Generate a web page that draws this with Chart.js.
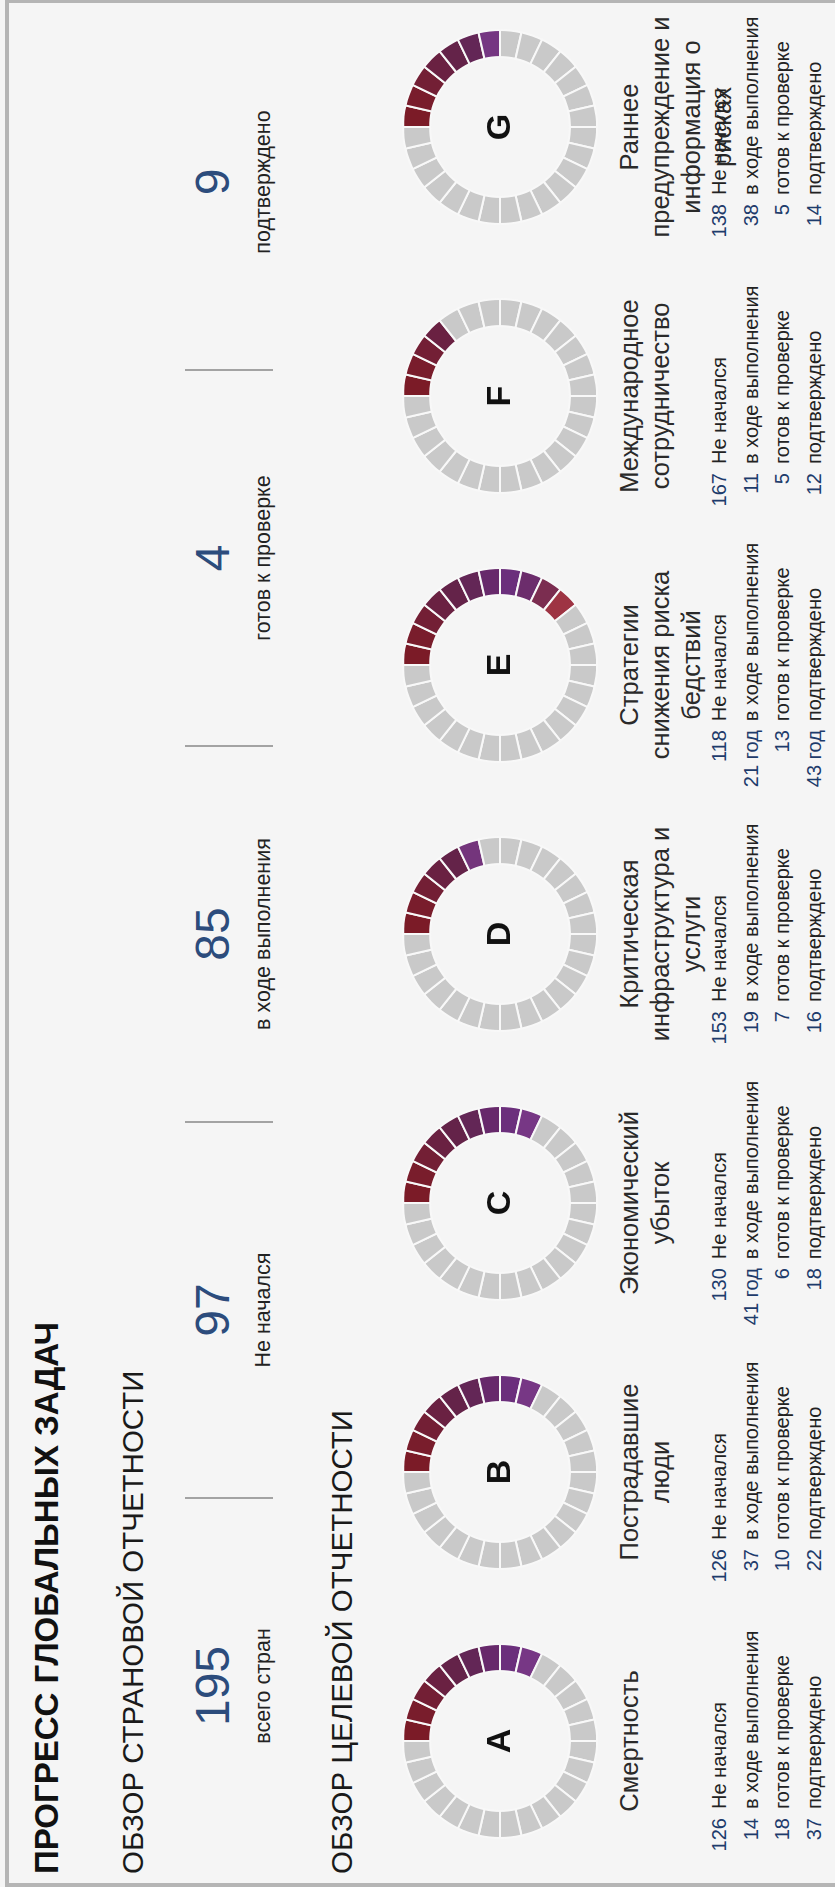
<!DOCTYPE html>
<html>
<head>
<meta charset="utf-8">
<script src="https://cdn.jsdelivr.net/npm/chart.js@4.4.0/dist/chart.umd.min.js"></script>
<style>
  html, body { margin: 0; padding: 0; }
  body { width: 835px; height: 1887px; overflow: hidden; background: #f5f5f5; position: relative;
         font-family: "Liberation Sans", Arial, sans-serif; }
  .edge { position: absolute; background: #b5b5b5; }
  #board { position: absolute; left: 0; top: 0; width: 1887px; height: 835px;
           transform-origin: 0 0; transform: translate(0px, 1887px) rotate(-90deg); }
  .t { position: absolute; white-space: pre; }
  .sep { position: absolute; width: 2px; background: #a3a3a3; }
  table.stats { position: absolute; border-collapse: collapse; font-size: 20px; line-height: 31.5px; }
  table.stats td { padding: 0; white-space: nowrap; }
  table.stats td.n { text-align: right; color: #1d3b6b; padding-right: 9px; }
  table.stats td.l { text-align: left; color: #222; }
</style>
</head>
<body>
<div class="edge" style="left:5px; top:0; width:4px; height:1887px;"></div>
<div class="edge" style="left:5px; top:0; width:830px; height:3px;"></div>
<div class="edge" style="left:5px; top:1883px; width:830px; height:4px;"></div>
<div id="board"></div>

<script>
// headline numbers (country reporting overview)
const kpiValues = [195, 97, 85, 4, 9];
const kpiLabels = ['всего стран', 'Не начался', 'в ходе выполнения', 'готов к проверке', 'подтверждено'];

// global targets A..G
const targets = ['A', 'B', 'C', 'D', 'E', 'F', 'G'];
const targetTitles = [
  'Смертность',
  'Пострадавшие\nлюди',
  'Экономический\nубыток',
  'Критическая\nинфраструктура и\nуслуги',
  'Стратегии\nснижения риска\nбедствий',
  'Международное\nсотрудничество',
  'Раннее\nпредупреждение и\nинформация о\nрисках'
];
const notStarted = [126, 126, 130, 153, 118, 167, 138];
const inProgress = [14, 37, 41, 19, 21, 11, 38];
const readyForReview = [18, 10, 6, 7, 13, 5, 5];
const confirmed = [37, 22, 18, 16, 43, 12, 14];
// the source prints "год" after some of the numbers
const inProgressSuffix = ['', '', ' год', '', ' год', '', ''];
const confirmedSuffix = ['', '', '', '', ' год', '', ''];
const rowLabels = ['Не начался', 'в ходе выполнения', 'готов к проверке', 'подтверждено'];

// ring: 28 tiles, coloured tiles per target
const totalSegments = 28;
const filledSegments = [9, 9, 9, 6, 11, 4, 7];

const board = document.getElementById('board');

// put text so its baseline sits at y (Liberation metrics)
function addText(txt, cx, baseline, size, opts) {
  opts = opts || {};
  const lh = opts.lh || size;
  const d = document.createElement('div');
  d.className = 't';
  d.textContent = txt;
  d.style.fontSize = size + 'px';
  d.style.lineHeight = lh + 'px';
  d.style.fontWeight = opts.weight || 'normal';
  d.style.color = opts.color || '#222';
  if (opts.family) d.style.fontFamily = opts.family;
  const top = baseline - ((lh - 1.117 * size) / 2 + 0.905 * size);
  d.style.top = top + 'px';
  if (opts.align === 'left') {
    d.style.left = cx + 'px';
  } else {
    d.style.left = (cx - 300) + 'px';
    d.style.width = '600px';
    d.style.textAlign = 'center';
  }
  board.appendChild(d);
  return d;
}

// headers
addText('ПРОГРЕСС ГЛОБАЛЬНЫХ ЗАДАЧ', 13, 58, 33, { align: 'left', weight: 'bold', color: '#111' });
addText('ОБЗОР СТРАНОВОЙ ОТЧЕТНОСТИ', 13, 143, 29.5, { align: 'left', color: '#1a1a1a' });
addText('ОБЗОР ЦЕЛЕВОЙ ОТЧЕТНОСТИ', 13, 352, 29.5, { align: 'left', color: '#1a1a1a' });

// KPI strip
const kpiX0 = 201, kpiStep = 376;
kpiValues.forEach((v, i) => {
  const cx = kpiX0 + i * kpiStep;
  addText(String(v), cx, 230, 48, { color: '#2c4c7c', family: '"Liberation Sans Narrow", "Liberation Sans", sans-serif' });
  addText(kpiLabels[i], cx, 271, 21.5, { color: '#222' });
  if (i > 0) {
    const s = document.createElement('div');
    s.className = 'sep';
    s.style.left = (cx - kpiStep / 2 - 1) + 'px';
    s.style.top = '185px';
    s.style.height = '88px';
    board.appendChild(s);
  }
});

// tile shades by position round the ring; the last filled tile is lifted toward violet
const tileShades = ['#7b1b27', '#791d2c', '#731f35', '#6a2142', '#642349', '#632656', '#67296b', '#6b2f7c', '#6c2e74'];
const lastShade = '#7b3b8c';
const longTail = ['#6c2d6c', '#7b2d50', '#9e3443'];

function mix(c1, c2, u) {
  const a = [1, 3, 5].map(k => parseInt(c1.substr(k, 2), 16));
  const b = [1, 3, 5].map(k => parseInt(c2.substr(k, 2), 16));
  return 'rgb(' + a.map((x, j) => Math.round(x + (b[j] - x) * u)).join(',') + ')';
}

function tileColors(n) {
  const out = [];
  for (let k = 0; k < totalSegments; k++) {
    if (k >= n) { out.push('#c9c9c9'); continue; }
    if (k < tileShades.length - 1 || n <= tileShades.length) {
      let c = tileShades[Math.min(k, tileShades.length - 1)];
      if (k === n - 1 && n >= 5) c = mix(c, lastShade, 0.7);
      out.push(c);
    } else {
      out.push(longTail[Math.min(k - (tileShades.length - 1), longTail.length - 1)]);
    }
  }
  return out;
}

const ringX0 = 146, ringStep = 269, ringY = 500;

targets.forEach((letter, i) => {
  const cx = ringX0 + i * ringStep;

  const cv = document.createElement('canvas');
  cv.width = 210; cv.height = 210;
  cv.style.position = 'absolute';
  cv.style.left = (cx - 105) + 'px';
  cv.style.top = (ringY - 105) + 'px';
  cv.style.width = '210px'; cv.style.height = '210px';
  board.appendChild(cv);

  const labels = [];
  for (let k = 0; k < totalSegments; k++) labels.push(String(k + 1));

  new Chart(cv, {
    type: 'doughnut',
    data: {
      labels: labels,
      datasets: [{
        data: new Array(totalSegments).fill(1),
        backgroundColor: tileColors(filledSegments[i]),
        borderColor: '#f8f8f8',
        borderWidth: 2,
        radius: 97,
        cutout: 75
      }]
    },
    options: {
      responsive: false,
      animation: false,
      events: [],
      layout: { padding: 0 },
      plugins: { legend: { display: false }, tooltip: { enabled: false } }
    }
  });

  addText(letter, cx, 510, 34, { weight: 'bold', color: '#111' });
  addText(targetTitles[i], cx, 638, 25.5, { lh: 31, color: '#2a2a2a' });

  // small stats table under the ring
  const tbl = document.createElement('table');
  tbl.className = 'stats';
  const nums = [
    String(notStarted[i]),
    inProgress[i] + inProgressSuffix[i],
    String(readyForReview[i]),
    confirmed[i] + confirmedSuffix[i]
  ];
  nums.forEach((num, r) => {
    const tr = document.createElement('tr');
    const a = document.createElement('td'); a.className = 'n'; a.textContent = num;
    const b = document.createElement('td'); b.className = 'l'; b.textContent = rowLabels[r];
    tr.appendChild(a); tr.appendChild(b);
    tbl.appendChild(tr);
  });
  tbl.style.top = (727 - ((31.5 - 1.117 * 20) / 2 + 0.905 * 20)) + 'px';
  tbl.style.left = cx + 'px';
  tbl.style.transform = 'translateX(-50%)';
  board.appendChild(tbl);
});
</script>
</body>
</html>
